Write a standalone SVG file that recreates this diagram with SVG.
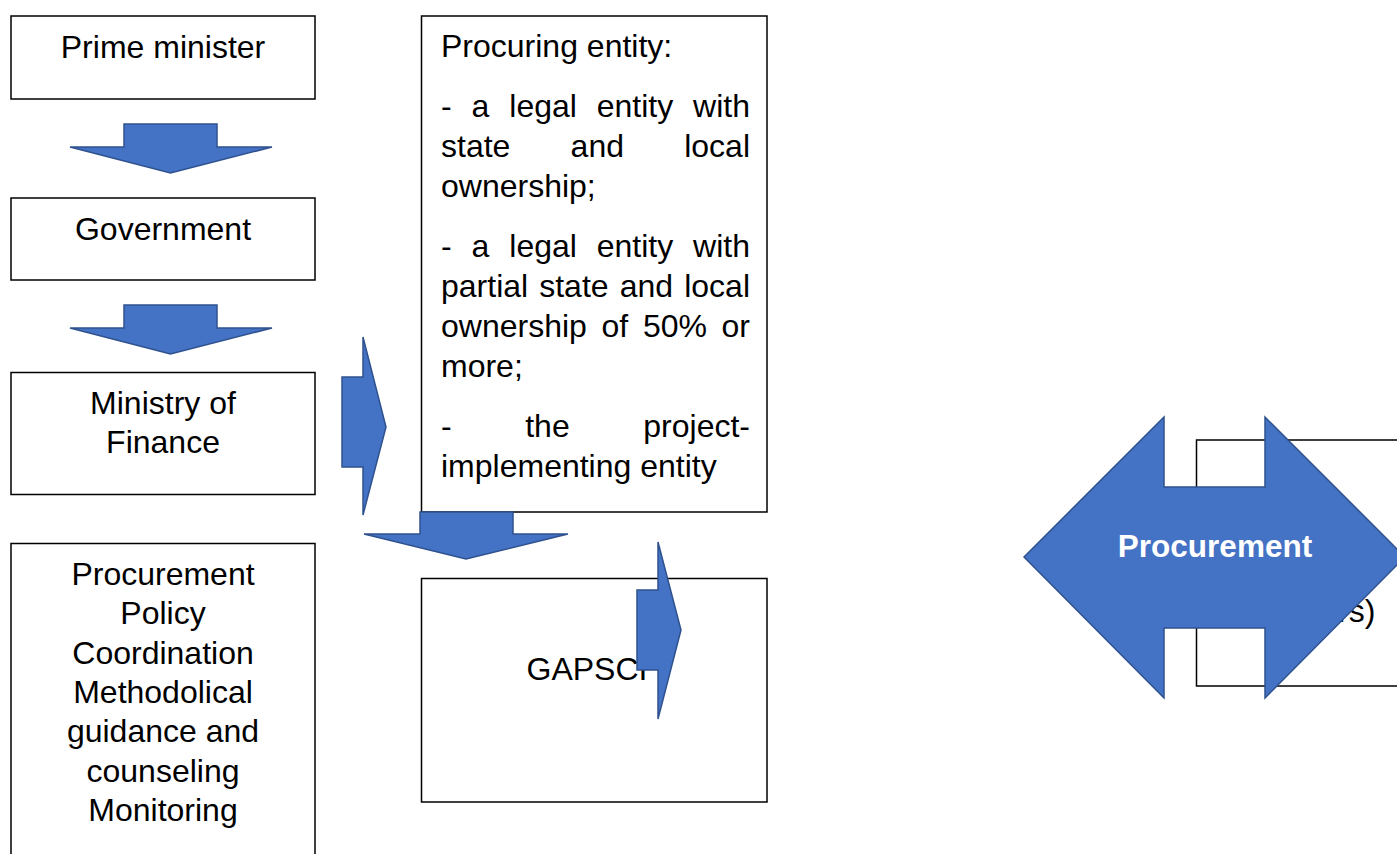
<svg xmlns="http://www.w3.org/2000/svg" width="1397" height="854" viewBox="0 0 1397 854">
  <style>
    .box { fill: #ffffff; stroke: #000000; stroke-width: 1.5; }
    .txt { font-family: "Liberation Sans", Arial, sans-serif; font-size: 32px; fill: #000000; }
    .mid { text-anchor: middle; }
    .end { text-anchor: end; }
    .arrow { fill: #4472C4; stroke: #2F528F; stroke-width: 1.5; stroke-linejoin: miter; }
    .lbl { font-family: "Liberation Sans", Arial, sans-serif; font-size: 31.5px; font-weight: bold; fill: #ffffff; text-anchor: middle; }
  </style>
  <rect width="1397" height="854" fill="#ffffff"/>

  <g id="prime-minister">
    <rect class="box" x="11" y="16" width="304" height="83"/>
    <text class="txt mid" x="163" y="58">Prime minister</text>
  </g>

  <g id="government">
    <rect class="box" x="11" y="198" width="304" height="82"/>
    <text class="txt mid" x="163" y="240">Government</text>
  </g>

  <g id="ministry-of-finance">
    <rect class="box" x="11" y="372.5" width="304" height="122"/>
    <text class="txt mid" x="163" y="414">Ministry of</text>
    <text class="txt mid" x="163" y="453">Finance</text>
  </g>

  <g id="policy-functions">
    <rect class="box" x="11" y="543.5" width="304" height="340"/>
    <text class="txt mid" x="163" y="585">Procurement</text>
    <text class="txt mid" x="163" y="624.3">Policy</text>
    <text class="txt mid" x="163" y="663.6">Coordination</text>
    <text class="txt mid" x="163" y="702.9">Methodolical</text>
    <text class="txt mid" x="163" y="742.2">guidance and</text>
    <text class="txt mid" x="163" y="781.5">counseling</text>
    <text class="txt mid" x="163" y="820.8">Monitoring</text>
  </g>

  <g id="procuring-entity">
    <rect class="box" x="421.5" y="16" width="345.5" height="496"/>
    <text class="txt" x="441" y="57">Procuring entity:</text>
    <!-- justified paragraph 1 -->
    <text class="txt" x="441" y="117">-</text>
    <text class="txt" x="471.6" y="117">a</text>
    <text class="txt" x="509.3" y="117">legal</text>
    <text class="txt" x="596.7" y="117">entity</text>
    <text class="txt end" x="750" y="117">with</text>
    <text class="txt" x="441" y="157">state</text>
    <text class="txt" x="570.6" y="157">and</text>
    <text class="txt end" x="750" y="157">local</text>
    <text class="txt" x="441" y="197">ownership;</text>
    <!-- justified paragraph 2 -->
    <text class="txt" x="441" y="257">-</text>
    <text class="txt" x="471.6" y="257">a</text>
    <text class="txt" x="509.3" y="257">legal</text>
    <text class="txt" x="596.7" y="257">entity</text>
    <text class="txt end" x="750" y="257">with</text>
    <text class="txt" x="441" y="297">partial</text>
    <text class="txt" x="539.2" y="297">state</text>
    <text class="txt" x="619.7" y="297">and</text>
    <text class="txt end" x="750" y="297">local</text>
    <text class="txt" x="441" y="337">ownership</text>
    <text class="txt" x="601.5" y="337">of</text>
    <text class="txt" x="642.9" y="337">50%</text>
    <text class="txt end" x="750" y="337">or</text>
    <text class="txt" x="441" y="377">more;</text>
    <!-- justified paragraph 3 -->
    <text class="txt" x="441" y="437">-</text>
    <text class="txt" x="525.2" y="437">the</text>
    <text class="txt end" x="750" y="437">project-</text>
    <text class="txt" x="441" y="477">implementing entity</text>
  </g>

  <g id="gapsci">
    <rect class="box" x="421.5" y="578.5" width="345.5" height="223.5"/>
    <text class="txt" x="526.5" y="680">GAPSCI</text>
  </g>

  <g id="participants">
    <rect class="box" x="1196.5" y="440" width="220" height="246"/>
    <text class="txt" x="1338" y="622">rs)</text>
  </g>

  <g id="connectors">
    <polygon class="arrow" points="124,124 217,124 217,147 272,147 170.5,173 70,147 124,147"/>
    <polygon class="arrow" points="124,305 217,305 217,328 272,328 170.5,354 70,328 124,328"/>
    <polygon class="arrow" points="342,377 363,377 363,337 386,427 363,515 363,467 342,467"/>
    <polygon class="arrow" points="420,512 513,512 513,534 568,534 466,559 364,534 420,534"/>
    <polygon class="arrow" points="637,590 658,590 658,542 681,630 658,719 658,670 637,670"/>
  </g>

  <g id="procurement-exchange">
    <polygon class="arrow" points="1024,557 1164,417 1164,487 1265,487 1265,417 1405,557 1265,698 1265,628 1164,628 1164,698"/>
    <text class="lbl" x="1215" y="557">Procurement</text>
  </g>
</svg>
